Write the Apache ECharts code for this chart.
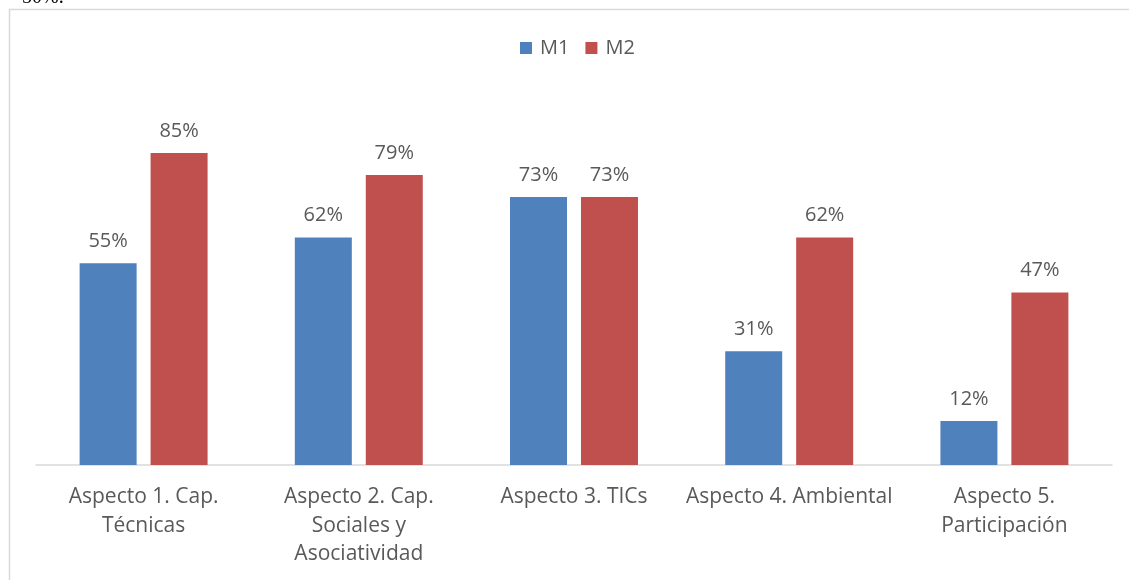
<!DOCTYPE html>
<html>
<head>
<meta charset="utf-8">
<script src="https://cdn.jsdelivr.net/npm/echarts@6/dist/echarts.min.js"></script>
<style>
html,body{margin:0;padding:0;background:#fff;}
#c{width:1129px;height:580px;}
</style>
</head>
<body>
<div id="c"></div>
<script>
const categories = ['Aspecto 1. Cap.\nTécnicas', 'Aspecto 2. Cap.\nSociales y\nAsociatividad', 'Aspecto 3. TICs', 'Aspecto 4. Ambiental', 'Aspecto 5.\nParticipación'];
const m1 = [55, 62, 73, 31, 12];
const m2 = [85, 79, 73, 62, 47];

const chart = echarts.init(document.getElementById('c'));
const font = 'Open Sans, Noto Sans, sans-serif';
chart.setOption({
  animation: false,
  graphic: [
    { type: 'rect', shape: { x: 9.5, y: 9.5, width: 1200, height: 700 }, style: { fill: 'none', stroke: '#d9d9d9', lineWidth: 1.5 } },
    { type: 'text', left: 22, top: -12, style: { text: '50%.', font: '20px "Liberation Serif", serif', fill: '#000' } }
  ],
  legend: {
    top: 33, left: 515, itemWidth: 12, itemHeight: 12, itemGap: 16,
    icon: 'rect',
    textStyle: { color: '#595959', fontSize: 20, fontFamily: font, padding: [0, 0, 0, 3] }
  },
  grid: { left: 36, right: 17, top: 98, bottom: 115, containLabel: false },
  xAxis: {
    type: 'category', data: categories,
    axisLine: { lineStyle: { color: '#d9d9d9', width: 1.5 } },
    axisTick: { show: false },
    axisLabel: { color: '#595959', fontSize: 21, fontFamily: font, lineHeight: 28.5, margin: 18, interval: 0 }
  },
  yAxis: { type: 'value', min: 0, max: 100, show: false, splitLine: { show: false } },
  series: [
    { name: 'M1', type: 'bar', data: m1, barWidth: 57, barGap: '24.5%',
      itemStyle: { color: '#4F81BD' },
      label: { show: true, position: 'top', distance: 12, formatter: '{c}%', color: '#595959', fontSize: 20, fontFamily: font } },
    { name: 'M2', type: 'bar', data: m2, barWidth: 57,
      itemStyle: { color: '#C0504D' },
      label: { show: true, position: 'top', distance: 12, formatter: '{c}%', color: '#595959', fontSize: 20, fontFamily: font } }
  ]
});
</script>
</body>
</html>
